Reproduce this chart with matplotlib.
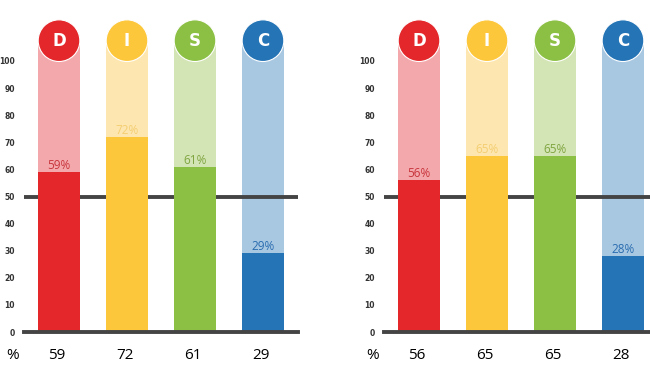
import matplotlib.pyplot as plt

# Данные DISC-профилей
letters = ['D', 'I', 'S', 'C']
scores_left = [59, 72, 61, 29]
scores_right = [56, 65, 65, 28]
yticks = [0, 10, 20, 30, 40, 50, 60, 70, 80, 90, 100]
bg_top = 107.5  # фон столбца до центра круга

dark = ['#E3272B', '#FDC73C', '#8BC044', '#2474B6']
light = ['#F3A8AB', '#FDE6AF', '#D3E4B5', '#A8C7E1']
label_col = ['#C8343C', '#F4CE72', '#7FA53F', '#2A6DB0']

W, H = 650, 378
fig = plt.figure(figsize=(6.5, 3.78), dpi=100)

px_per_unit = 2.71
y0_px = 332
ymax = 120


def draw_panel(left_px, scores):
    width_px = 274
    height_px = ymax * px_per_unit
    ax = fig.add_axes([left_px / W, (H - y0_px) / H, width_px / W, height_px / H])
    ax.set_xlim(-0.515, 3.515)
    ax.set_ylim(0, ymax)
    x = list(range(len(letters)))

    # линия 50 поверх светлого фона, но под тёмными столбцами
    ax.bar(x, [bg_top] * 4, width=0.62, color=light, zorder=1)
    ax.axhline(50, color='#444444', lw=2.8, zorder=2)
    ax.bar(x, scores, width=0.62, color=dark, zorder=3)
    ax.axhline(0, color='#444444', lw=2.8, zorder=4, clip_on=False)

    ax.scatter(x, [bg_top] * 4, s=900, c=dark, edgecolors='white',
               linewidths=0.8, zorder=5, clip_on=False)
    for i, l in enumerate(letters):
        ax.text(i, bg_top, l, color='white', fontsize=12, fontweight='bold',
                family='DejaVu Sans', ha='center', va='center', zorder=6)
        ax.text(i, scores[i] + 2.4, f'{scores[i]}%', color=label_col[i],
                fontsize=8.5, family='Open Sans', ha='center', va='center', zorder=6)
        ax.text(i - 0.03, -8.5, str(scores[i]), color='black', fontsize=11,
                family='Open Sans', ha='center', va='center', clip_on=False)
    ax.text(-0.68, -8.5, '%', color='black', fontsize=11, family='Open Sans',
            ha='center', va='center', clip_on=False)

    ax.set_yticks(yticks)
    ax.set_yticklabels([str(t) for t in yticks], fontsize=5.5,
                       fontweight='bold', color='#333333')
    ax.tick_params(axis='y', length=0, pad=6.5)
    ax.set_xticks([])
    for s in ax.spines.values():
        s.set_visible(False)
    ax.patch.set_alpha(0)
    return ax


draw_panel(24, scores_left)
draw_panel(384, scores_right)

fig.savefig('out.png', dpi=100)
